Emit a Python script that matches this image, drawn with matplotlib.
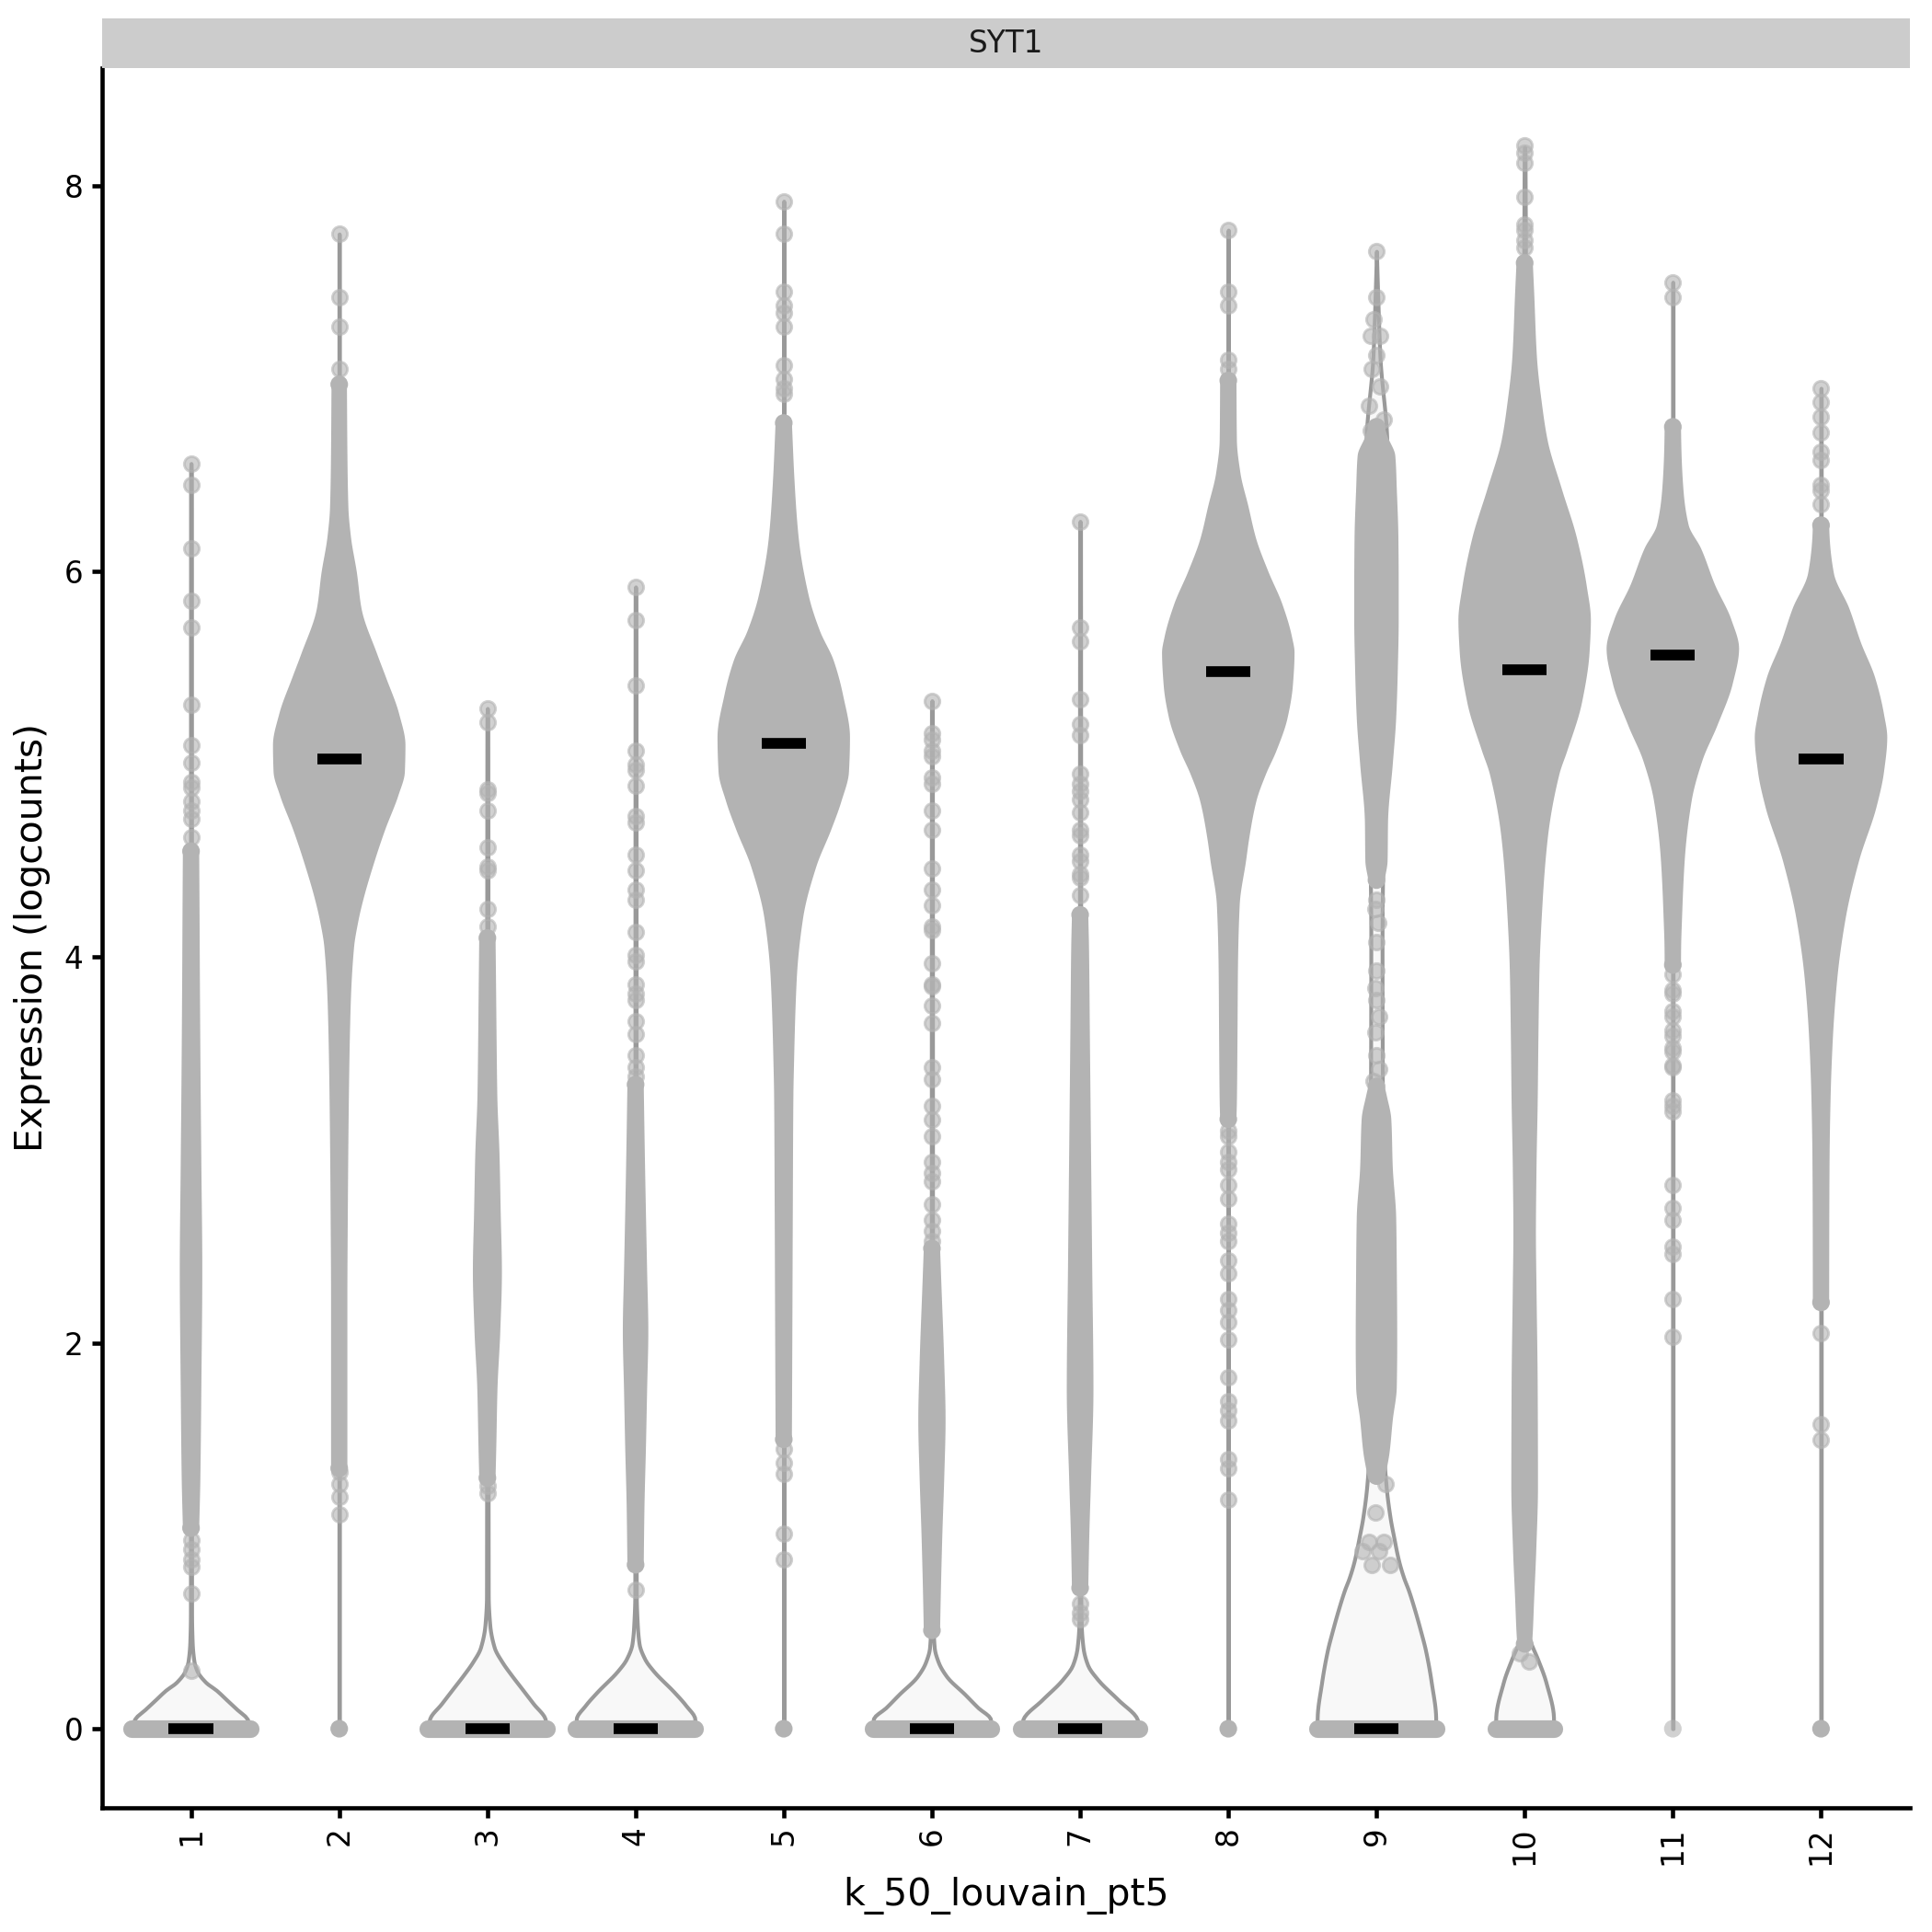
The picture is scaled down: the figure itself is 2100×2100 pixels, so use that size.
import numpy as np
import matplotlib
matplotlib.use("Agg")
import matplotlib.pyplot as plt
from matplotlib.patches import Rectangle

# ---------------- data ----------------
clusters = ["1", "2", "3", "4", "5", "6", "7", "8", "9", "10", "11", "12"]
medians = [0.0, 5.03, 0.0, 0.0, 5.11, 0.0, 0.0, 5.48, 0.0, 5.49, 5.565, 5.03]
max_vals = [6.56, 7.75, 5.29, 5.92, 7.92, 5.33, 6.26, 7.77, 7.66, 8.20, 7.50, 6.95]
# half-spread of the cells stacked at exactly 0 (0 = only a few cells at 0)
zero_spread = [0.40, 0.0, 0.40, 0.40, 0.0, 0.40, 0.40, 0.0, 0.40, 0.195, 0.0, 0.0]
zero_alpha = [1, 1, 1, 1, 1, 1, 1, 1, 1, 1, 0.6, 1]

# violin outlines: y knots and half-widths (x units)
violin_y_1 = [0, 0.05, 0.10, 0.15, 0.20, 0.24, 0.30, 0.35, 0.45, 0.6, 6.51, 6.56]
violin_w_1 = [0.40, 0.38, 0.31, 0.24, 0.17, 0.10, 0.04, 0.02, 0.008, 0.004, 0.003, 0.0]
violin_y_2 = [0, 7.70, 7.75]
violin_w_2 = [0.0018, 0.0018, 0.0]
violin_y_3 = [0, 0.05, 0.13, 0.21, 0.28, 0.345, 0.42, 0.54, 0.69, 5.24, 5.29]
violin_w_3 = [0.40, 0.39, 0.31, 0.23, 0.16, 0.10, 0.047, 0.016, 0.006, 0.003, 0.0]
violin_y_4 = [0, 0.05, 0.12, 0.19, 0.30, 0.36, 0.44, 0.54, 0.70, 5.87, 5.92]
violin_w_4 = [0.40, 0.40, 0.34, 0.26, 0.12, 0.063, 0.024, 0.012, 0.005, 0.003, 0.0]
violin_y_5 = [0, 7.87, 7.92]
violin_w_5 = [0.0018, 0.0018, 0.0]
violin_y_6 = [0, 0.05, 0.11, 0.18, 0.27, 0.345, 0.42, 0.54, 0.70, 5.28, 5.33]
violin_w_6 = [0.40, 0.395, 0.31, 0.22, 0.10, 0.043, 0.016, 0.008, 0.005, 0.003, 0.0]
violin_y_7 = [0, 0.05, 0.15, 0.255, 0.33, 0.42, 0.54, 0.70, 6.21, 6.26]
violin_w_7 = [0.40, 0.385, 0.257, 0.119, 0.051, 0.02, 0.008, 0.005, 0.003, 0.0]
violin_y_8 = [0, 7.72, 7.77]
violin_w_8 = [0.0018, 0.0018, 0.0]
violin_y_9 = [0, 0.05, 0.24, 0.41, 0.50, 0.61, 0.72, 0.78, 0.87, 1.00, 1.09, 1.26,
              1.43, 1.60, 2.50, 3.30, 4.10, 4.60, 5.50, 6.20, 6.68, 7.11, 7.45, 7.66]
violin_w_9 = [0.40, 0.40, 0.37, 0.33, 0.30, 0.26, 0.215, 0.185, 0.15, 0.115, 0.093, 0.065,
              0.05, 0.045, 0.05, 0.04, 0.038, 0.045, 0.07, 0.08, 0.07, 0.024, 0.008, 0.0]
violin_y_10 = [0, 0.05, 0.24, 0.36, 0.44, 0.49, 0.60, 8.15, 8.20]
violin_w_10 = [0.195, 0.195, 0.144, 0.088, 0.044, 0.022, 0.02, 0.003, 0.0]
violin_y_11 = [0, 7.45, 7.50]
violin_w_11 = [0.0018, 0.0018, 0.0]
violin_y_12 = [0, 6.90, 6.95]
violin_w_12 = [0.0018, 0.0018, 0.0]

# dense point clouds: y knots and visible half-widths (x units)
cloud_y_1 = [1.04, 1.30, 1.80, 2.38, 2.90, 3.40, 3.85, 4.30, 4.55]
cloud_w_1 = [0.055, 0.063, 0.07, 0.076, 0.07, 0.064, 0.06, 0.057, 0.055]
cloud_y_2 = [1.35, 2.21, 2.67, 3.26, 3.74, 4.05, 4.19, 4.29, 4.50, 4.66, 4.84, 4.96,
             5.10, 5.26, 5.45, 5.57, 5.81, 5.99, 6.18, 6.33, 6.63, 6.97]
cloud_w_2 = [0.055, 0.055, 0.058, 0.065, 0.077, 0.10, 0.13, 0.16, 0.24, 0.31, 0.40, 0.443,
             0.447, 0.405, 0.316, 0.257, 0.15, 0.12, 0.079, 0.062, 0.055, 0.052]
cloud_y_3 = [1.30, 1.46, 1.76, 2.06, 2.37, 2.67, 2.97, 3.28, 3.58, 3.89, 4.10]
cloud_w_3 = [0.055, 0.06, 0.068, 0.087, 0.098, 0.09, 0.082, 0.067, 0.062, 0.058, 0.055]
cloud_y_4 = [0.85, 1.15, 1.46, 1.76, 2.06, 2.37, 2.67, 3.00, 3.34]
cloud_w_4 = [0.055, 0.06, 0.07, 0.078, 0.086, 0.078, 0.07, 0.062, 0.055]
cloud_y_5 = [1.50, 2.06, 2.67, 3.28, 3.44, 3.89, 4.20, 4.47, 4.66, 4.81, 4.96, 5.14,
             5.36, 5.54, 5.69, 5.87, 6.18, 6.48, 6.77]
cloud_w_5 = [0.055, 0.058, 0.061, 0.065, 0.069, 0.088, 0.13, 0.22, 0.32, 0.39, 0.44, 0.447,
             0.40, 0.336, 0.245, 0.17, 0.10, 0.072, 0.055]
cloud_y_6 = [0.51, 0.70, 1.00, 1.30, 1.60, 1.90, 2.30, 2.49]
cloud_w_6 = [0.055, 0.06, 0.07, 0.083, 0.092, 0.083, 0.064, 0.055]
cloud_y_7 = [0.73, 1.00, 1.30, 1.76, 2.37, 2.97, 3.58, 4.05, 4.22]
cloud_w_7 = [0.055, 0.062, 0.074, 0.09, 0.082, 0.074, 0.066, 0.06, 0.055]
cloud_y_8 = [3.16, 3.25, 3.59, 3.93, 4.27, 4.50, 4.61, 4.81, 4.95, 5.07, 5.24, 5.41,
             5.58, 5.66, 5.83, 6.00, 6.17, 6.34, 6.51, 6.68, 6.99]
cloud_w_8 = [0.055, 0.058, 0.062, 0.065, 0.077, 0.12, 0.14, 0.19, 0.255, 0.325, 0.40, 0.436,
             0.447, 0.43, 0.365, 0.27, 0.188, 0.135, 0.082, 0.058, 0.055]
cloud_y_9a = [1.31, 1.43, 1.60, 1.77, 2.00, 2.40, 2.65, 2.91, 3.16, 3.28, 3.33]
cloud_w_9a = [0.06, 0.088, 0.11, 0.137, 0.14, 0.137, 0.133, 0.11, 0.10, 0.07, 0.055]
cloud_y_9b = [4.40, 4.50, 4.70, 5.00, 5.24, 5.49, 5.75, 5.92, 6.17, 6.43, 6.60, 6.70, 6.75]
cloud_w_9b = [0.055, 0.075, 0.078, 0.11, 0.133, 0.144, 0.15, 0.15, 0.148, 0.137, 0.127, 0.075, 0.055]
cloud_y_10 = [0.44, 0.50, 0.67, 0.92, 1.26, 1.77, 2.28, 2.57, 2.91, 3.25, 3.59, 3.93,
              4.27, 4.61, 4.95, 5.07, 5.32, 5.58, 5.75, 5.92, 6.17, 6.43, 6.68, 6.85,
              7.11, 7.45, 7.60]
cloud_w_10 = [0.05, 0.055, 0.064, 0.078, 0.09, 0.088, 0.08, 0.076, 0.08, 0.088, 0.093, 0.10,
              0.12, 0.155, 0.235, 0.288, 0.387, 0.438, 0.447, 0.42, 0.354, 0.25, 0.155, 0.12,
              0.083, 0.064, 0.055]
cloud_y_11 = [3.96, 4.05, 4.20, 4.50, 4.81, 5.02, 5.20, 5.42, 5.60, 5.75, 5.93, 6.12,
              6.24, 6.42, 6.63, 6.75]
cloud_w_11 = [0.055, 0.056, 0.062, 0.08, 0.127, 0.20, 0.30, 0.405, 0.447, 0.395, 0.285, 0.19,
              0.107, 0.072, 0.058, 0.055]
cloud_y_12 = [2.21, 2.67, 2.97, 3.28, 3.58, 3.89, 4.20, 4.50, 4.78, 4.96, 5.14, 5.26,
              5.45, 5.63, 5.81, 5.99, 6.18, 6.24]
cloud_w_12 = [0.055, 0.056, 0.058, 0.065, 0.08, 0.11, 0.166, 0.257, 0.375, 0.425, 0.447, 0.425,
              0.365, 0.27, 0.19, 0.087, 0.058, 0.055]

# sparse single cells outside the dense clouds (y values)
points_1 = [6.56, 6.45, 6.12, 5.85, 5.71, 5.31, 5.10, 5.01, 4.91, 4.88, 4.81, 4.76, 4.72,
            4.62, 0.98, 0.93, 0.88, 0.84, 0.70, 0.30]
points_2 = [7.75, 7.42, 7.27, 7.05, 1.33, 1.27, 1.20, 1.11]
points_3 = [5.29, 5.22, 4.87, 4.85, 4.76, 4.57, 4.47, 4.45, 4.25, 4.16, 1.26, 1.22]
points_4 = [5.92, 5.75, 5.41, 5.07, 5.00, 4.97, 4.89, 4.73, 4.70, 4.53, 4.45, 4.35, 4.30,
            4.13, 4.01, 3.98, 3.86, 3.81, 3.78, 3.67, 3.60, 3.49, 3.43, 3.38, 0.72]
points_5 = [7.92, 7.75, 7.45, 7.38, 7.34, 7.27, 7.07, 7.00, 6.95, 6.92, 1.45, 1.38, 1.32,
            1.01, 0.88]
points_6 = [5.33, 5.16, 5.13, 5.07, 5.04, 4.93, 4.90, 4.76, 4.66, 4.46, 4.35, 4.27, 4.16,
            4.14, 3.97, 3.86, 3.85, 3.75, 3.66, 3.43, 3.37, 3.23, 3.16, 3.07, 2.94, 2.88,
            2.84, 2.72, 2.64, 2.58, 2.53]
points_7 = [6.26, 5.71, 5.64, 5.34, 5.21, 5.15, 4.95, 4.90, 4.86, 4.82, 4.75, 4.66, 4.63,
            4.53, 4.50, 4.43, 4.41, 4.32, 0.65, 0.60, 0.57]
points_8 = [7.77, 7.45, 7.38, 7.10, 7.05, 3.10, 3.07, 2.99, 2.94, 2.90, 2.82, 2.75, 2.62,
            2.57, 2.53, 2.43, 2.36, 2.23, 2.17, 2.11, 2.02, 1.82, 1.70, 1.65, 1.60, 1.40,
            1.35, 1.19]
points_9 = [7.66, 7.42, 7.31, 7.22, 7.22, 7.12, 7.05, 6.96, 6.86, 6.79, 6.73, 4.30, 4.25,
            4.18, 4.08, 3.93, 3.84, 3.78, 3.69, 3.61, 3.49, 3.42, 3.36, 1.27, 1.12, 0.97,
            0.97, 0.92, 0.92, 0.85, 0.85]
points_9_dx = [0, 0, -0.02, -0.04, 0.025, 0, -0.03, 0.025, -0.05, 0.05, -0.04, 0, -0.01,
               0.01, 0, 0, -0.01, 0, 0.02, -0.01, 0, 0.02, -0.02, 0.06, -0.005, -0.05,
               0.05, -0.095, 0.015, -0.03, 0.093]
points_10 = [8.21, 8.17, 8.12, 7.94, 7.80, 7.77, 7.72, 7.68, 0.39, 0.35]
points_10_dx = [0, 0, 0, 0, 0, 0, 0, 0, -0.035, 0.03]
points_11 = [7.50, 7.42, 3.91, 3.83, 3.81, 3.72, 3.69, 3.62, 3.59, 3.53, 3.51, 3.44, 3.43,
             3.26, 3.23, 3.20, 2.82, 2.70, 2.64, 2.50, 2.46, 2.23, 2.03]
points_12 = [6.95, 6.88, 6.80, 6.72, 6.62, 6.58, 6.45, 6.42, 6.35, 2.05, 1.58, 1.50]

violins = [(violin_y_1, violin_w_1), (violin_y_2, violin_w_2), (violin_y_3, violin_w_3),
           (violin_y_4, violin_w_4), (violin_y_5, violin_w_5), (violin_y_6, violin_w_6),
           (violin_y_7, violin_w_7), (violin_y_8, violin_w_8), (violin_y_9, violin_w_9),
           (violin_y_10, violin_w_10), (violin_y_11, violin_w_11), (violin_y_12, violin_w_12)]
clouds = [[(cloud_y_1, cloud_w_1)], [(cloud_y_2, cloud_w_2)], [(cloud_y_3, cloud_w_3)],
          [(cloud_y_4, cloud_w_4)], [(cloud_y_5, cloud_w_5)], [(cloud_y_6, cloud_w_6)],
          [(cloud_y_7, cloud_w_7)], [(cloud_y_8, cloud_w_8)],
          [(cloud_y_9a, cloud_w_9a), (cloud_y_9b, cloud_w_9b)],
          [(cloud_y_10, cloud_w_10)], [(cloud_y_11, cloud_w_11)], [(cloud_y_12, cloud_w_12)]]
points = [(points_1, None), (points_2, None), (points_3, None), (points_4, None),
          (points_5, None), (points_6, None), (points_7, None), (points_8, None),
          (points_9, points_9_dx), (points_10, points_10_dx), (points_11, None),
          (points_12, None)]


def smooth_outline(y, w, n=400):
    """Monotone cubic (PCHIP) curve through the read knots, for a smooth outline."""
    y = np.asarray(y, float)
    w = np.asarray(w, float)
    if len(y) < 3:
        return y, w
    h = np.diff(y)
    d = np.diff(w) / h
    m = np.zeros_like(w)
    m[0], m[-1] = d[0], d[-1]
    for k in range(1, len(y) - 1):
        if d[k - 1] * d[k] > 0:
            w1 = 2 * h[k] + h[k - 1]
            w2 = h[k] + 2 * h[k - 1]
            m[k] = (w1 + w2) / (w1 / d[k - 1] + w2 / d[k])
    yy = np.unique(np.concatenate([np.linspace(y[0], y[-1], n), y]))
    idx = np.clip(np.searchsorted(y, yy, side="right") - 1, 0, len(y) - 2)
    t = (yy - y[idx]) / h[idx]
    h00 = 2 * t ** 3 - 3 * t ** 2 + 1
    h10 = t ** 3 - 2 * t ** 2 + t
    h01 = -2 * t ** 3 + 3 * t ** 2
    h11 = t ** 3 - t ** 2
    ww = h00 * w[idx] + h10 * h[idx] * m[idx] + h01 * w[idx + 1] + h11 * h[idx] * m[idx + 1]
    return yy, np.maximum(ww, 0)


# ---------------- styling ----------------
PT_COLOR = "#b3b3b3"
VIOLIN_EDGE = "#999999"
VIOLIN_FILL = "#f8f8f8"
MARKER_D = 4.6          # visible marker diameter, points
EDGE_LW = 0.7

fig = plt.figure(figsize=(7, 7), dpi=300)
ax = fig.add_axes([0.05286, 0.06429, 0.93571, 0.90048])

for i, cl in enumerate(clusters):
    x = i + 1
    vy, vw = smooth_outline(*violins[i])
    ax.fill_betweenx(vy, x - vw, x + vw, facecolor=VIOLIN_FILL, edgecolor=VIOLIN_EDGE,
                     linewidth=1.0, zorder=2)

    # cells at exactly zero
    if zero_spread[i] > 0:
        ax.hlines(0, x - zero_spread[i], x + zero_spread[i], colors=PT_COLOR,
                  linewidth=MARKER_D, capstyle="round", zorder=4)
    else:
        ax.scatter([x], [0], s=MARKER_D ** 2, color=PT_COLOR, edgecolors="none",
                   alpha=zero_alpha[i], zorder=4)

    # dense clouds of cells
    for cy, cw in clouds[i]:
        sy, sw = smooth_outline(cy, cw)
        ax.fill_betweenx(sy, x - sw, x + sw, facecolor=PT_COLOR, edgecolor="none",
                         zorder=3)
        ax.scatter([x, x], [cy[0], cy[-1]], s=MARKER_D ** 2, color=PT_COLOR,
                   edgecolors="none", zorder=3)

    # sparse cells
    py, pdx = points[i]
    py = np.asarray(py)
    dx = np.zeros_like(py) if pdx is None else np.asarray(pdx)
    ax.scatter(x + dx, py, s=(MARKER_D - EDGE_LW) ** 2, facecolor=PT_COLOR,
               edgecolor=PT_COLOR, linewidths=EDGE_LW, alpha=0.6, zorder=4)

    # median bar
    ax.hlines(medians[i], x - 0.15, x + 0.15, colors="black", linewidth=2.8,
              capstyle="butt", zorder=5)

ax.set_xlim(0.4, 12.6)
ax.set_ylim(-0.41, 8.61)
ax.set_xticks(range(1, len(clusters) + 1))
ax.set_xticklabels(clusters, rotation=90, va="top", ha="center")
ax.set_yticks([0, 2, 4, 6, 8])
ax.set_yticklabels(["0", "2", "4", "6", "8"])
ax.tick_params(axis="both", direction="out", length=2.75, width=1.1, color="black",
               labelsize=7.85, labelcolor="black", pad=2.2)
for side in ["top", "right"]:
    ax.spines[side].set_visible(False)
for side in ["left", "bottom"]:
    ax.spines[side].set_linewidth(1.1)
    ax.spines[side].set_color("black")
ax.set_xlabel("k_50_louvain_pt5", fontsize=9.8, labelpad=3.0)
ax.set_ylabel("Expression (logcounts)", fontsize=9.8, labelpad=3.5)

# facet strip
fig.patches.append(Rectangle((0.05286, 0.96476), 0.93571, 0.02571, transform=fig.transFigure,
                             facecolor="#cccccc", edgecolor="none", zorder=0))
fig.text(0.05286 + 0.93571 / 2, 0.96476 + 0.02571 / 2, "SYT1", ha="center", va="center",
         fontsize=7.85, color="#1a1a1a")

fig.savefig("out.png", dpi=300)
